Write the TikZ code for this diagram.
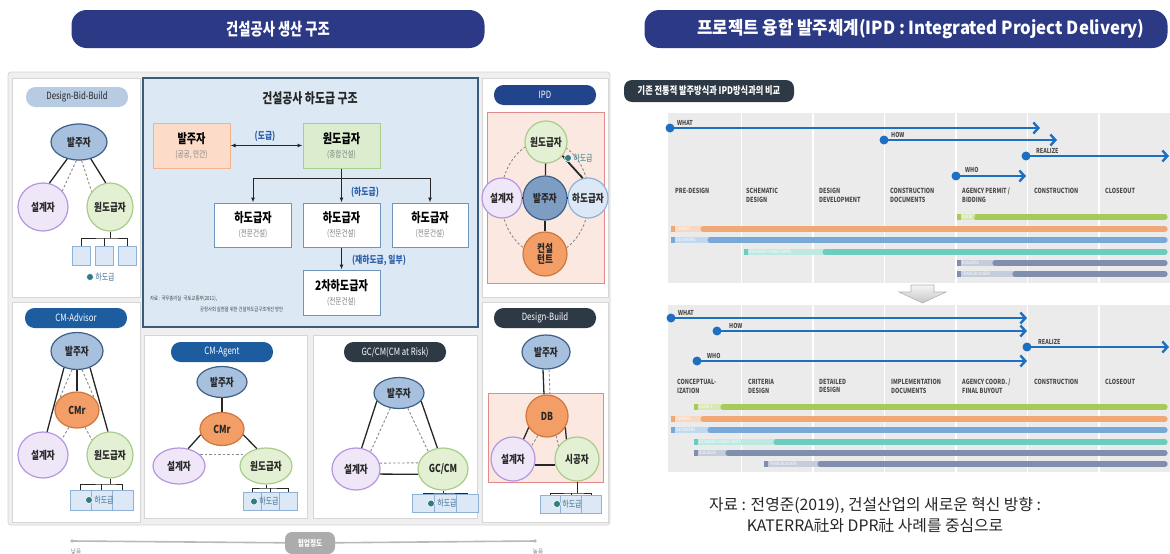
\documentclass[tikz,border=0pt]{standalone}
\usepackage{fontspec}
\setmainfont{Noto Sans CJK KR}
\newfontfamily\cond[FakeStretch=0.78]{Noto Sans CJK KR}
\newfontfamily\condw[FakeStretch=0.93]{Noto Sans CJK KR}
\usetikzlibrary{shapes.geometric,arrows.meta}
\definecolor{cBanner}{HTML}{2C3985}
\definecolor{cPillL}{HTML}{B7CBE2}
\definecolor{cPillN}{HTML}{22448A}
\definecolor{cPillB}{HTML}{1D5C9E}
\definecolor{cPillD}{HTML}{2E3946}
\definecolor{cOwn}{HTML}{A7C0DD}
\definecolor{cOwnDk}{HTML}{7E9DC3}
\definecolor{cOwnD}{HTML}{3E5F87}
\definecolor{cDes}{HTML}{EFE6F8}
\definecolor{cDesD}{HTML}{B596E0}
\definecolor{cGen}{HTML}{E3F0D3}
\definecolor{cGenD}{HTML}{A9CC88}
\definecolor{cCmr}{HTML}{F29E66}
\definecolor{cCmrD}{HTML}{CF763E}
\definecolor{cSub}{HTML}{DCE8F5}
\definecolor{cSubD}{HTML}{8FB1D3}
\definecolor{cSubT}{HTML}{3F6F93}
\definecolor{cTealD}{HTML}{2F7D82}
\definecolor{cLine}{HTML}{262626}
\definecolor{cDash}{HTML}{8A8A8A}
\definecolor{cPanelBg}{HTML}{EFEFEF}
\definecolor{cPanelD}{HTML}{D6D6D6}
\definecolor{cCenter}{HTML}{DCE9F5}
\definecolor{cCenterD}{HTML}{3B5B7C}
\definecolor{cRed}{HTML}{FBE9E1}
\definecolor{cRedD}{HTML}{E08A8A}
\definecolor{cHbO}{HTML}{FCDCC8}
\definecolor{cHbOD}{HTML}{F3B48C}
\definecolor{cHbG}{HTML}{DBECCF}
\definecolor{cHbGD}{HTML}{A9CF8F}
\definecolor{cHbW}{HTML}{6F95BB}
\definecolor{cBlueT}{HTML}{2B5DA8}
\definecolor{cGantt}{HTML}{EBEBEB}
\definecolor{cArrow}{HTML}{1F6FC1}
\definecolor{cAg}{HTML}{A6CB5A}
\definecolor{cOw}{HTML}{F1A877}
\definecolor{cDe}{HTML}{78A9D9}
\definecolor{cCo}{HTML}{6CCDBE}
\definecolor{cBu}{HTML}{7F8FAD}
\definecolor{cPhase}{HTML}{4A4A4A}
\newcommand\mytA[1]{{\cond\bfseries\fontsize{13}{14}\selectfont #1}}
\newcommand\mytB[1]{{\cond\fontsize{8.5}{9}\selectfont\color{gray}#1}}
\newcommand\gbar[6]{%
  \fill[#4!45] (#2,#1-2.6) rectangle (#3,#1+2.6);
  \fill[#4] (#2,#1-2.6) rectangle (#2+4,#1+2.6);
  \draw[#4, line width=5.2pt, line cap=round] (#3,#1) -- (1165,#1);
  \node[barlab] (#6) at (#2+5,#1) {#5};}
\begin{document}
\begin{tikzpicture}[x=1pt,y=-1pt,
  sol/.style={draw=cLine, line width=1.3pt},
  dsh/.style={draw=cDash, line width=0.9pt, dash pattern=on 2.5pt off 2pt},
  tl/.style={draw=cLine, line width=1pt},
  ell/.style={ellipse, line width=1.2pt, inner sep=0pt, align=center, text=black!85,
     font=\cond\bfseries\fontsize{11}{11.5}\selectfont},
  own/.style={ell, fill=cOwn, draw=cOwnD},
  ownk/.style={ell, fill=cOwnDk, draw=cOwnD},
  des/.style={ell, fill=cDes, draw=cDesD},
  gen/.style={ell, fill=cGen, draw=cGenD},
  cmr/.style={ell, fill=cCmr, draw=cCmrD},
  subc/.style={ell, fill=cSub, draw=cSubD},
  sbox/.style={rectangle, fill=cSub, draw=cSubD, line width=0.8pt, inner sep=0pt, minimum width=18pt, minimum height=18pt},
  dotn/.style={circle, fill=cTealD, draw=white, line width=0.6pt, inner sep=0pt, minimum size=7pt},
  subl/.style={font=\cond\fontsize{9}{9.5}\selectfont, text=cSubT, inner sep=0pt},
  pill/.style={rounded corners=9.5pt, minimum width=102pt, minimum height=20pt, inner sep=0pt, text=white,
     font=\cond\fontsize{10}{10.5}\selectfont},
  pillL/.style={pill, fill=cPillL, text=black!85},
  pillN/.style={pill, fill=cPillN},
  pillB/.style={pill, fill=cPillB},
  pillD/.style={pill, fill=cPillD},
  panel/.style={fill=white, draw=cPanelD, line width=0.8pt},
  redbox/.style={fill=cRed, draw=cRedD, line width=1pt},
  banner/.style={rounded corners=15pt, fill=cBanner, text=white, minimum height=38pt, inner sep=0pt,
     font=\cond\bfseries\fontsize{17}{18}\selectfont},
  hbx/.style={rectangle, minimum width=77pt, minimum height=45pt, inner sep=0pt, align=center, line width=1pt},
  blab/.style={font=\cond\bfseries\fontsize{10}{10.5}\selectfont, text=cBlueT, inner sep=0pt},
  arr/.style={draw=cLine, line width=1pt, -{Latex[length=5pt,width=4pt]}},
  barrow/.style={draw=cArrow, line width=2.4pt, -{Straight Barb[length=5pt,width=11pt]}},
  bdot/.style={circle, fill=cArrow, inner sep=0pt, minimum size=9pt},
  alab/.style={font=\cond\bfseries\fontsize{6.8}{7}\selectfont, text=cPhase, inner sep=0pt, anchor=south west},
  phase/.style={font=\cond\bfseries\fontsize{7}{8.5}\selectfont, text=cPhase, inner sep=0pt, anchor=north west, align=left},
  barlab/.style={font=\cond\fontsize{4.5}{5}\selectfont, text=white, inner sep=0pt, anchor=west},
  axl/.style={draw=gray!55, line width=1.6pt},
]
\useasboundingbox (0,0) rectangle (1170,554);
\fill[white] (0,0) rectangle (1170,554);

% banners
\node[banner, minimum width=413pt] (bn1) at (278,29) {건설공사 생산 구조};
\node[banner, minimum width=523pt] (bn2) at (906,29) {};
\node[text=white, inner sep=0pt, font=\condw\bfseries\fontsize{18}{19}\selectfont] (bn3) at (921,29) {프로젝트 융합 발주체계(IPD : Integrated Project Delivery)};

% left background and panels
\draw[draw=cPanelD, fill=cPanelBg, rounded corners=3pt, line width=0.8pt] (8,72) rectangle (610,525);
\draw[panel] (12,78) rectangle (140,297);
\draw[panel] (482,78) rectangle (608,297);
\draw[panel] (12,302) rectangle (140,522);
\draw[panel] (144,335) rectangle (307,518);
\draw[panel] (313,335) rectangle (477,518);
\draw[panel] (482,302) rectangle (608,522);
\draw[fill=cCenter, draw=cCenterD, line width=1.5pt] (143,78) rectangle (478,327);

% ---------- Design-Bid-Build
\node[pillL] (p1) at (77,97) {Design-Bid-Build};
\node[own, minimum width=56pt, minimum height=36pt] (a1) at (79,142) {발주자};
\node[des, minimum width=50pt, minimum height=48pt] (a2) at (43,207) {설계자};
\node[gen, minimum width=46pt, minimum height=48pt] (a3) at (110,207) {원도급자};
\draw[sol] (a1.235) -- (a2.75);
\draw[sol] (a1.305) -- (a3.100);
\draw[dsh] (a1.262) -- (a2.40);
\draw[dsh] (a1.278) -- (a3.140);
\node[sbox, minimum height=19pt] (a4) at (81,256) {};
\node[sbox, minimum height=19pt] (a5) at (104,256) {};
\node[sbox, minimum height=19pt] (a6) at (127,256) {};
\coordinate (a7) at (110,238);
\draw[tl] (a3.south) -- (a7);
\draw[tl] (a4.north) |- (a7) -| (a6.north);
\draw[tl] (a5.north) -- (a5.north |- a7);
\node[dotn] (a8) at (90,277) {};
\node[subl] (a9) at (105,277) {하도급};

% ---------- IPD
\node[pillN] (p2) at (545,95) {IPD};
\draw[redbox] (487,112) rectangle (604,283);
\coordinate (i0) at (545,198);
\draw[dsh] (i0) ellipse [x radius=44, y radius=57];
\node[gen, circle, minimum size=42pt] (i1) at (546,142) {원도급자};
\node[des, circle, minimum size=40pt] (i2) at (502,198) {설계자};
\node[subc, circle, minimum size=40pt] (i4) at (588,198) {하도급자};
\node[cmr, circle, minimum size=44pt] (i5) at (545,254) {컨설\\턴트};
\node[ownk, circle, minimum size=44pt] (i3) at (545,198) {발주자};
\draw[sol] (i1) -- (i3);
\draw[sol] (i3) -- (i2);
\draw[sol] (i3) -- (i4);
\draw[sol] (i3) -- (i5);
\draw[sol, line width=1.8pt] (i1.-40) -- (i4.105);
\node[dotn] (i6) at (568,158) {};
\node[subl, text=cTealD] (i7) at (583,158) {하도급};

% ---------- CM-Advisor
\node[pillB] (p3) at (76,318) {CM-Advisor};
\node[own, minimum width=52pt, minimum height=37pt] (b1) at (77,351) {발주자};
\node[cmr, minimum width=44pt, minimum height=36pt] (b2) at (77,410) {CMr};
\node[des, minimum width=50pt, minimum height=46pt] (b3) at (43,455) {설계자};
\node[gen, minimum width=46pt, minimum height=46pt] (b4) at (110,455) {원도급자};
\draw[sol] (b1.232) -- (b3.80);
\draw[sol] (b1.308) -- (b4.95);
\draw[sol] (b1) -- (b2);
\draw[dsh] (b1.255) -- (b2.145);
\draw[dsh] (b1.285) -- (b2.35);
\draw[dsh] (b2.245) -- (b3.40);
\draw[dsh] (b2.295) -- (b4.140);
\node[sbox, minimum width=21pt, minimum height=20pt] (b5) at (80.5,500) {};
\node[sbox, minimum width=21pt, minimum height=20pt] (b6) at (101.5,500) {};
\node[sbox, minimum width=21pt, minimum height=20pt] (b7) at (122.5,500) {};
\coordinate (b8) at (110,484);
\draw[tl] (b4.south) -- (b8);
\draw[tl] (b5.north) |- (b8) -| (b7.north);
\draw[tl] (b6.north) -- (b6.north |- b8);
\node[dotn] (b9) at (89,500) {};
\node[subl] (b10) at (104,500) {하도급};

% ---------- CM-Agent
\node[pillB] (p4) at (222,352) {CM-Agent};
\node[own, minimum width=50pt, minimum height=31pt] (c1) at (222,382) {발주자};
\node[cmr, minimum width=44pt, minimum height=33pt] (c2) at (222,429) {CMr};
\node[des, minimum width=52pt, minimum height=36pt] (c3) at (179,466) {설계자};
\node[gen, minimum width=52pt, minimum height=36pt] (c4) at (266,466) {원도급자};
\draw[sol] (c1) -- (c2);
\draw[sol] (c2.195) -- (c3.62);
\draw[sol] (c2.345) -- (c4.118);
\draw[dsh] (c3.28) -- (c4.152);
\node[sbox] (c5) at (252,501.5) {};
\node[sbox] (c6) at (270,501.5) {};
\node[sbox] (c7) at (288,501.5) {};
\coordinate (c8) at (266,488);
\draw[tl] (c4.south) -- (c8);
\draw[tl] (c5.north) |- (c8) -| (c7.north);
\draw[tl] (c6.north) -- (c6.north |- c8);
\node[dotn] (c9) at (254,501.5) {};
\node[subl] (c10) at (269,501.5) {하도급};

% ---------- GC/CM
\node[pillD] (p5) at (395,352) {GC/CM(CM at Risk)};
\node[own, minimum width=50pt, minimum height=31pt] (g1) at (399,393) {발주자};
\node[des, minimum width=48pt, minimum height=42pt] (g2) at (356,469) {설계자};
\node[gen, minimum width=50pt, minimum height=42pt] (g3) at (443,469) {GC/CM};
\draw[sol] (g1.200) -- (g2.75);
\draw[sol] (g1.340) -- (g3.105);
\draw[dsh] (g1.240) -- (g2.50);
\draw[dsh] (g1.300) -- (g3.130);
\draw[dsh] (g2.14) -- (g3.166);
\draw[sol] (g2.-12) -- (g3.192);
\node[sbox, minimum width=22pt] (g4) at (423,503.5) {};
\node[sbox, minimum width=22pt] (g5) at (445,503.5) {};
\node[sbox, minimum width=22pt] (g6) at (467,503.5) {};
\coordinate (g7) at (443,493);
\draw[tl] (g3.south) -- (g7);
\draw[tl] (g4.north) |- (g7) -| (g6.north);
\draw[tl] (g5.north) -- (g5.north |- g7);
\node[dotn] (g8) at (431,503.5) {};
\node[subl] (g9) at (447,503.5) {하도급};

% ---------- Design-Build
\node[pillD] (p6) at (545,318) {Design-Build};
\node[own, minimum width=48pt, minimum height=34pt] (e1) at (546,352) {발주자};
\draw[redbox] (488,393) rectangle (603,482);
\node[cmr, circle, minimum size=42pt] (e2) at (547,416) {DB};
\node[des, circle, minimum size=44pt] (e3) at (513,459) {설계자};
\node[gen, circle, minimum size=44pt] (e4) at (577,459) {시공자};
\draw[sol] ([xshift=-3pt]e1.south) -- ([xshift=-3pt]e2.north);
\draw[dsh] ([xshift=3pt]e1.south) -- ([xshift=3pt]e2.north);
\draw[sol] (e2.212) -- (e3.62);
\draw[dsh] (e2.245) -- (e3.35);
\draw[sol] (e2.328) -- (e4.118);
\draw[dsh] (e2.295) -- (e4.145);
\draw[sol] (e3.-15) -- (e4.195);
\node[sbox, minimum width=20.5pt] (e5) at (550.5,504) {};
\node[sbox, minimum width=20.5pt] (e6) at (571,504) {};
\node[sbox, minimum width=20.5pt] (e7) at (591.5,504) {};
\coordinate (e8) at (577,493);
\draw[tl] (e4.south) -- (e8);
\draw[tl] (e5.north) |- (e8) -| (e7.north);
\draw[tl] (e6.north) -- (e6.north |- e8);
\node[dotn] (e9) at (557,504) {};
\node[subl] (e10) at (572,504) {하도급};

% ---------- center: 건설공사 하도급 구조
\node[font=\cond\bfseries\fontsize{14}{15}\selectfont, text=black!85] (h0) at (310,98) {건설공사 하도급 구조};
\node[hbx, fill=cHbO, draw=cHbOD] (h1) at (191.5,145.5) {\mytA{발주자}\\[2pt]\mytB{(공공, 민간)}};
\node[hbx, fill=cHbG, draw=cHbGD] (h2) at (341.5,145.5) {\mytA{원도급자}\\[2pt]\mytB{(종합건설)}};
\draw[draw=cLine, line width=1pt, {Latex[length=5pt,width=4pt]}-{Latex[length=5pt,width=4pt]}] (h1) -- (h2);
\node[blab] (h3) at (265,136) {(도급)};
\node[hbx, fill=white, draw=cHbW, minimum height=44pt] (h5) at (253,225) {\mytA{하도급자}\\[2pt]\mytB{(전문건설)}};
\node[hbx, fill=white, draw=cHbW, minimum height=44pt] (h6) at (341.5,225) {\mytA{하도급자}\\[2pt]\mytB{(전문건설)}};
\node[hbx, fill=white, draw=cHbW, minimum height=44pt, minimum width=76pt] (h7) at (430,225) {\mytA{하도급자}\\[2pt]\mytB{(전문건설)}};
\coordinate (h4) at (341.5,178);
\draw[arr] (h2) -- (h6);
\draw[arr] (h4) -| (h5.north);
\draw[arr] (h4) -| (h7.north);
\node[blab] (h8) at (365,192) {(하도급)};
\node[hbx, fill=white, draw=cHbW] (h9) at (341.5,292.5) {\mytA{2차하도급자}\\[2pt]\mytB{(전문건설)}};
\draw[arr] (h6) -- (h9);
\node[blab] (h10) at (379,260) {(재하도급, 일부)};
\node[font=\cond\fontsize{5.5}{6}\selectfont, anchor=west, inner sep=0pt, text=black!75] (h11) at (150,299) {자료 : 국무총리실·국토교통부(2011),};
\node[font=\cond\fontsize{5.5}{6}\selectfont, anchor=west, inner sep=0pt, text=black!75] (h12) at (200,309) {공정사회 실현을 위한 건설하도급구조개선 방안};

% ---------- bottom axis
\coordinate (x1) at (72,541);
\coordinate (x2) at (535,541);
\node[rounded corners=7pt, fill=gray!65, text=white, minimum width=50pt, minimum height=22pt, inner sep=0pt,
  font=\cond\bfseries\fontsize{8.5}{9}\selectfont] (x3) at (310,543) {협업정도};
\draw[axl] (x1) -- (x3);
\draw[axl] (x3) -- (x2);
\fill[gray!55] (x1) circle (1.8);
\fill[gray!55] (x2) circle (1.8);
\node[font=\cond\fontsize{7}{8}\selectfont, text=gray] (x4) at (76,552) {낮음};
\node[font=\cond\fontsize{7}{8}\selectfont, text=gray] (x5) at (538,552) {높음};

% ---------- right side
\node[pillD, rounded corners=8pt, minimum width=170pt, minimum height=22pt, font=\cond\bfseries\fontsize{10.5}{11}\selectfont] (r0) at (709,91) {기존 전통적 발주방식과 IPD방식과의 비교};

% top chart
\fill[cGantt] (668,113) rectangle (1170,283);
\foreach \xx in {741.5,813,884.5,956,1027.5,1099} \draw[white, line width=1.2pt] (\xx,113) -- (\xx,283);
\node[bdot] (t1) at (670,128) {};
\coordinate (t2) at (1040,128);
\draw[barrow] (t1.center) -- (t2);
\node[alab] (t3) at (677,126) {WHAT};
\node[bdot] (t4) at (884,140) {};
\coordinate (t5) at (1057,140);
\draw[barrow] (t4.center) -- (t5);
\node[alab] (t6) at (891,138) {HOW};
\node[bdot] (t7) at (1026,156) {};
\coordinate (t8) at (1169,156);
\draw[barrow] (t7.center) -- (t8);
\node[alab] (t9) at (1036,154) {REALIZE};
\node[bdot] (t10) at (956,176) {};
\coordinate (t11) at (1026,176);
\draw[barrow] (t10.center) -- (t11);
\node[alab] (t12) at (965,173) {WHO};
\node[phase] (t13) at (675,188) {PRE-DESIGN};
\node[phase] (t14) at (746,188) {SCHEMATIC\\DESIGN};
\node[phase] (t15) at (819,188) {DESIGN\\DEVELOPMENT};
\node[phase] (t16) at (890,188) {CONSTRUCTION\\DOCUMENTS};
\node[phase] (t17) at (962,188) {AGENCY PERMIT /\\BIDDING};
\node[phase] (t18) at (1034,188) {CONSTRUCTION};
\node[phase] (t19) at (1105,188) {CLOSEOUT};
\gbar{217}{957}{976}{cAg}{AGENCY}{t20}
\gbar{229}{671}{703}{cOw}{OWNERS}{t21}
\gbar{240}{671}{710}{cDe}{DESIGNERS}{t22}
\gbar{252}{744}{825}{cCo}{DESIGNER CONSULTANTS}{t23}
\gbar{263}{957}{995}{cBu}{BUILDERS}{t24}
\gbar{274}{957}{1015}{cBu}{TRADE BUILDERS}{t25}

% down arrow
\shade[top color=gray!8, bottom color=gray!45, draw=gray!60, line width=0.6pt]
  (911,285) -- (934,285) -- (934,292) -- (946,292) -- (922.5,303) -- (899,292) -- (911,292) -- cycle;

% bottom chart
\fill[cGantt] (668,305) rectangle (1170,472);
\foreach \xx in {741.5,813,884.5,956,1027.5,1099} \draw[white, line width=1.2pt] (\xx,305) -- (\xx,472);
\node[bdot] (u1) at (671,318) {};
\coordinate (u2) at (1027,318);
\draw[barrow] (u1.center) -- (u2);
\node[alab] (u3) at (678,316) {WHAT};
\node[bdot] (u4) at (717,331) {};
\coordinate (u5) at (1027,331);
\draw[barrow] (u4.center) -- (u5);
\node[alab] (u6) at (729,329) {HOW};
\node[bdot] (u7) at (1027,347) {};
\coordinate (u8) at (1169,347);
\draw[barrow] (u7.center) -- (u8);
\node[alab] (u9) at (1038,345) {REALIZE};
\node[bdot] (u10) at (697,361) {};
\coordinate (u11) at (1027,361);
\draw[barrow] (u10.center) -- (u11);
\node[alab] (u12) at (707,359) {WHO};
\node[phase] (u13) at (677,379) {CONCEPTUAL-\\IZATION};
\node[phase] (u14) at (748,379) {CRITERIA\\DESIGN};
\node[phase] (u15) at (819,379) {DETAILED\\DESIGN};
\node[phase] (u16) at (891,379) {IMPLEMENTATION\\DOCUMENTS};
\node[phase] (u17) at (962,379) {AGENCY COORD. /\\FINAL BUYOUT};
\node[phase] (u18) at (1034,379) {CONSTRUCTION};
\node[phase] (u19) at (1105,379) {CLOSEOUT};
\gbar{407}{694}{723}{cAg}{AGENCY}{u20}
\gbar{419}{671}{703}{cOw}{OWNERS}{u21}
\gbar{430}{671}{710}{cDe}{DESIGNERS}{u22}
\gbar{442}{694}{776}{cCo}{DESIGNER CONSULTANTS}{u23}
\gbar{453}{694}{728}{cBu}{BUILDERS}{u24}
\gbar{464}{764}{820}{cBu}{TRADE BUILDERS}{u25}

% source
\node[font=\fontsize{15.8}{17}\selectfont, text=black!85] (s1) at (875,505) {자료 : 전영준(2019), 건설산업의 새로운 혁신 방향 :};
\node[font=\fontsize{15.8}{17}\selectfont, text=black!85] (s2) at (875,526) {KATERRA社와 DPR社 사례를 중심으로};
\end{tikzpicture}
\end{document}
